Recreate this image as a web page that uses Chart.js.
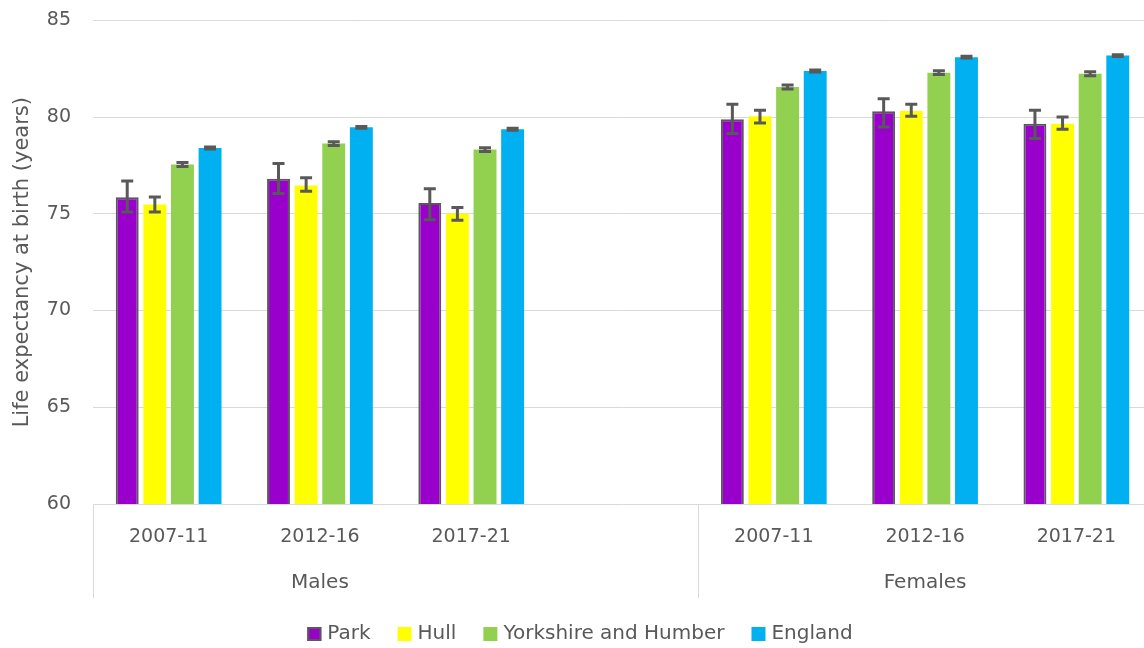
<!DOCTYPE html>
<html><head><meta charset="utf-8">
<script src="https://cdn.jsdelivr.net/npm/chart.js@4/dist/chart.umd.min.js"></script>
<style>html,body{margin:0;padding:0;background:#fff;overflow:hidden}#wrap{width:1144px;height:648px;overflow:hidden;position:relative}#c{position:absolute;left:0;top:-13px}</style>
</head><body><div id="wrap"><canvas id="c" width="1152" height="661"></canvas></div>
<script>
const categories = ['2007-11','2012-16','2017-21','','2007-11','2012-16','2017-21'];
const groupLabels = ['Males','Females'];
const groupFirst = [0, 4];
const groupLast = [2, 6];
const seriesNames = ['Park','Hull','Yorkshire and Humber','England'];

const park     = [75.86, 76.82, 75.56, null, 79.89, 80.30, 79.66];
const parkLow  = [75.10, 76.05, 74.70, null, 79.15, 79.49, 78.89];
const parkHigh = [76.70, 77.60, 76.30, null, 80.66, 80.95, 80.35];

const hull     = [75.48, 76.46, 75.02, null, 80.04, 80.31, 79.66];
const hullLow  = [75.10, 76.17, 74.67, null, 79.70, 80.04, 79.37];
const hullHigh = [75.87, 76.86, 75.33, null, 80.35, 80.66, 80.00];

const yorks     = [77.55, 78.63, 78.32, null, 81.56, 82.30, 82.24];
const yorksLow  = [77.45, 78.53, 78.22, null, 81.46, 82.20, 82.14];
const yorksHigh = [77.65, 78.73, 78.42, null, 81.66, 82.40, 82.34];

const england     = [78.40, 79.47, 79.37, null, 82.38, 83.10, 83.18];
const englandLow  = [78.35, 79.42, 79.32, null, 82.33, 83.05, 83.13];
const englandHigh = [78.45, 79.52, 79.42, null, 82.43, 83.15, 83.23];

const yMin = 60, yMax = 85, yStep = 5;
const yTitle = 'Life expectancy at birth (years)';

const FONT = "'DejaVu Sans', sans-serif";
const TXT = '#595959';
const GRID = '#d9d9d9';

const errorBars = {
  id: 'errorBars',
  afterDatasetsDraw(chart) {
    const ctx = chart.ctx, ys = chart.scales.y;
    chart.data.datasets.forEach((ds, i) => {
      const meta = chart.getDatasetMeta(i);
      meta.data.forEach((el, j) => {
        if (ds.data[j] == null) return;
        const x = el.x;
        const yl = ys.getPixelForValue(ds.errLow[j]);
        const yh = ys.getPixelForValue(ds.errHigh[j]);
        ctx.save();
        ctx.strokeStyle = '#595959';
        ctx.lineWidth = 3;
        ctx.beginPath();
        ctx.moveTo(x, yl); ctx.lineTo(x, yh);
        ctx.moveTo(x - 6, yl); ctx.lineTo(x + 6, yl);
        ctx.moveTo(x - 6, yh); ctx.lineTo(x + 6, yh);
        ctx.stroke();
        ctx.restore();
      });
    });
  }
};

const groupAxis = {
  id: 'groupAxis',
  afterDraw(chart) {
    const ctx = chart.ctx, xs = chart.scales.x, area = chart.chartArea;
    const step = xs.getPixelForValue(1) - xs.getPixelForValue(0);
    ctx.save();
    ctx.strokeStyle = GRID;
    ctx.lineWidth = 1;
    const bottom = area.bottom + 94;
    const edges = [area.left, xs.getPixelForValue(groupFirst[1]) - step / 2, area.right];
    edges.forEach(x => {
      ctx.beginPath();
      ctx.moveTo(Math.round(x) + 0.5, area.bottom);
      ctx.lineTo(Math.round(x) + 0.5, bottom);
      ctx.stroke();
    });
    ctx.fillStyle = TXT;
    ctx.font = '20px ' + FONT;
    ctx.textAlign = 'center';
    ctx.textBaseline = 'middle';
    groupLabels.forEach((g, k) => {
      const x0 = xs.getPixelForValue(groupFirst[k]) - step / 2;
      const x1 = xs.getPixelForValue(groupLast[k]) + step / 2;
      ctx.fillText(g, (x0 + x1) / 2, area.bottom + 79);
    });
    // legend
    const box = 14, gap = 6, itemGap = 27;
    const items = chart.data.datasets.map(ds => ({
      label: ds.label, color: ds.backgroundColor, border: ds.borderWidth > 0 ? ds.borderColor : null,
      w: box + gap + ctx.measureText(ds.label).width
    }));
    const total = items.reduce((s, it) => s + it.w, 0) + itemGap * (items.length - 1);
    let x = 580 - total / 2;
    const yc = area.bottom + 130;
    ctx.textAlign = 'left';
    items.forEach(it => {
      ctx.fillStyle = it.color;
      ctx.fillRect(x, yc - box / 2, box, box);
      if (it.border) {
        ctx.strokeStyle = it.border; ctx.lineWidth = 2;
        ctx.strokeRect(x + 1, yc - box / 2 + 1, box - 2, box - 2);
      }
      ctx.fillStyle = TXT;
      ctx.fillText(it.label, x + box + gap, yc);
      x += it.w + itemGap;
    });
    ctx.restore();
  }
};

new Chart(document.getElementById('c'), {
  type: 'bar',
  data: {
    labels: categories,
    datasets: [
      { label: seriesNames[0], data: park, errLow: parkLow, errHigh: parkHigh, backgroundColor: '#9900CC', borderColor: '#595959', borderWidth: 2 },
      { label: seriesNames[1], data: hull, errLow: hullLow, errHigh: hullHigh, backgroundColor: '#FFFF00', borderWidth: 0 },
      { label: seriesNames[2], data: yorks, errLow: yorksLow, errHigh: yorksHigh, backgroundColor: '#92D050', borderWidth: 0 },
      { label: seriesNames[3], data: england, errLow: englandLow, errHigh: englandHigh, backgroundColor: '#00B0F0', borderWidth: 0 }
    ]
  },
  options: {
    responsive: false,
    animation: false,
    devicePixelRatio: 1,
    categoryPercentage: 0.73,
    barPercentage: 0.83,
    layout: { padding: { top: 0, right: 0, left: 0, bottom: 0 } },
    plugins: { legend: { display: false }, tooltip: { enabled: false } },
    scales: {
      x: {
        grid: { display: false, drawTicks: false },
        border: { display: false },
        ticks: { color: TXT, font: { family: FONT, size: 19 }, padding: 22, maxRotation: 0, autoSkip: false },
        afterFit(s) { s.height = 144; }
      },
      y: {
        min: yMin, max: yMax,
        grid: { color: GRID, lineWidth: 1, drawTicks: false },
        border: { display: false },
        ticks: { stepSize: yStep, color: TXT, font: { family: FONT, size: 19 }, padding: 22 },
        title: { display: true, text: yTitle, color: TXT, font: { family: FONT, size: 21 }, padding: { top: 10, bottom: 0 } },
        afterFit(s) { s.width = 93; }
      }
    }
  },
  plugins: [errorBars, groupAxis]
});
</script>
</body></html>
